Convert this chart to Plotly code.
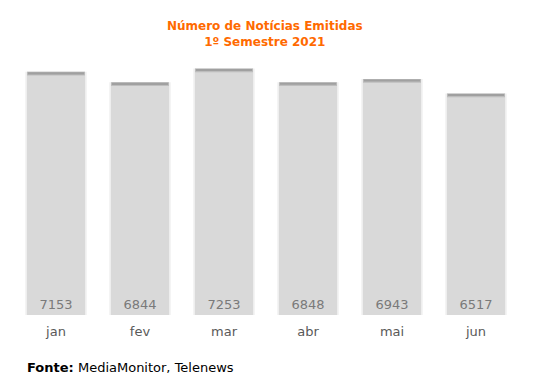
import plotly.graph_objects as go

months = ["jan", "fev", "mar", "abr", "mai", "jun"]
values = [7153, 6844, 7253, 6848, 6943, 6517]
title_lines = ["Número de Notícias Emitidas", "1º Semestre 2021"]
source_label = "Fonte:"
source_text = "MediaMonitor, Telenews"

FONT = "DejaVu Sans"
stripe = 110  # data units for top shading band

fig = go.Figure()
# soft shadow behind bars
fig.add_trace(go.Bar(
    x=months, y=values, width=0.73,
    marker=dict(color="#eeeeee", line=dict(width=0)),
    hoverinfo="skip",
))
fig.add_trace(go.Bar(
    x=months, y=values, width=0.69,
    marker=dict(color="#d9d9d9", line=dict(width=0)),
    text=[str(v) for v in values],
    textposition="inside", insidetextanchor="start",
    textfont=dict(family=FONT, size=13, color="#7a7a7a"),
    textangle=0,
    hoverinfo="skip",
))
fig.add_trace(go.Bar(
    x=months, y=[stripe] * len(values), base=[v - stripe for v in values], width=0.69,
    marker=dict(color="#bdbdbd", line=dict(width=0)),
    hoverinfo="skip",
))
fig.add_trace(go.Bar(
    x=months, y=[stripe * 0.55] * len(values), base=[v - stripe * 0.7 for v in values], width=0.67,
    marker=dict(color="#a0a0a0", line=dict(width=0)),
    hoverinfo="skip",
))

fig.update_layout(
    width=536, height=389,
    margin=dict(l=14, r=18, t=60, b=74),
    barmode="overlay",
    showlegend=False,
    plot_bgcolor="white", paper_bgcolor="white",
    title=dict(
        text="<br>".join(title_lines),
        xref="container", x=0.494, xanchor="center", y=0.922, yanchor="top",
        font=dict(family=FONT, size=12, color="#ff6a00", weight="bold"),
    ),
    xaxis=dict(showgrid=False, showline=False, zeroline=False, ticks="",
               ticklabelstandoff=7,
               tickfont=dict(family=FONT, size=13, color="#595959")),
    yaxis=dict(visible=False, range=[0, 7500]),
    uniformtext=dict(mode="show", minsize=13),
)
fig.add_annotation(
    text=f"<b>{source_label}</b> {source_text}",
    xref="paper", yref="paper", x=0.022, y=-0.17, xanchor="left", yanchor="top",
    showarrow=False, font=dict(family=FONT, size=13, color="#000000"),
)
fig.write_html("out.html", config={"displayModeBar": False},
               post_script="document.body.style.margin='0';")
